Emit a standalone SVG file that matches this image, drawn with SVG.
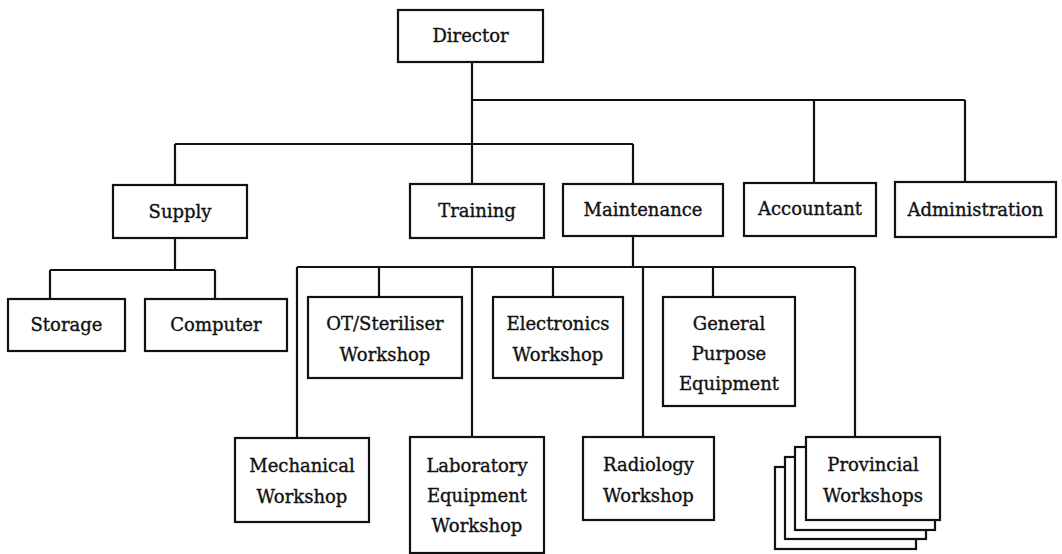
<svg xmlns="http://www.w3.org/2000/svg" width="1062" height="554" viewBox="0 0 1062 554">
<style>
.box{fill:#fff;stroke:#111;stroke-width:2.2}
.ln{fill:none;stroke:#111;stroke-width:2.2}
text{font-family:"DejaVu Serif","Liberation Serif",serif;font-size:18px;fill:#111;stroke:#111;stroke-width:0.35;text-anchor:middle}
</style>
<rect width="1062" height="554" fill="#fff"/>
<g id="connectors" class="ln">
<path d="M472 62V144M472 100H965M175 144H633M175 144V185M472 144V184M814 100V183M965 100V182M633 144V184"/>
<path d="M175 238V270M50 270H215M50 270V299M215 270V299"/>
<path d="M633 236V267M297 267H855M297 267V438M379 267V297M472 267V437M553 267V297M643 267V437M713 267V297M855 267V437"/>
</g>
<g id="director"><rect class="box" x="398" y="10" width="145" height="52"/><text x="470.5" y="42">Director</text></g>
<g id="supply"><rect class="box" x="113" y="185" width="134" height="53"/><text x="180" y="218">Supply</text></g>
<g id="training"><rect class="box" x="410" y="184" width="134" height="54"/><text x="477" y="217">Training</text></g>
<g id="maintenance"><rect class="box" x="563" y="184" width="160" height="52"/><text x="643" y="216">Maintenance</text></g>
<g id="accountant"><rect class="box" x="744" y="183" width="132" height="53"/><text x="810" y="215">Accountant</text></g>
<g id="administration"><rect class="box" x="895" y="182" width="161" height="55"/><text x="975.5" y="216">Administration</text></g>
<g id="storage"><rect class="box" x="8" y="299" width="117" height="52"/><text x="66.5" y="331">Storage</text></g>
<g id="computer"><rect class="box" x="145" y="299" width="142" height="52"/><text x="216" y="331">Computer</text></g>
<g id="ot-steriliser"><rect class="box" x="308" y="297" width="154" height="81"/><text x="385" y="330">OT/Steriliser</text><text x="385" y="361">Workshop</text></g>
<g id="electronics"><rect class="box" x="493" y="297" width="130" height="81"/><text x="558" y="330">Electronics</text><text x="558" y="361">Workshop</text></g>
<g id="general-purpose"><rect class="box" x="663" y="297" width="132" height="109"/><text x="729" y="330">General</text><text x="729" y="360">Purpose</text><text x="729" y="390">Equipment</text></g>
<g id="mechanical"><rect class="box" x="235" y="438" width="134" height="84"/><text x="302" y="472">Mechanical</text><text x="302" y="503">Workshop</text></g>
<g id="laboratory"><rect class="box" x="410" y="437" width="134" height="116"/><text x="477" y="472">Laboratory</text><text x="477" y="502">Equipment</text><text x="477" y="532">Workshop</text></g>
<g id="radiology"><rect class="box" x="583" y="437" width="131" height="83"/><text x="648.5" y="471">Radiology</text><text x="648.5" y="502">Workshop</text></g>
<g id="provincial">
<rect class="box" x="775" y="467" width="141" height="82"/>
<rect class="box" x="785" y="457" width="141" height="82"/>
<rect class="box" x="795" y="447" width="140" height="83"/>
<rect class="box" x="806" y="437" width="134" height="83"/>
<text x="873" y="471">Provincial</text><text x="873" y="502">Workshops</text>
</g>
</svg>
